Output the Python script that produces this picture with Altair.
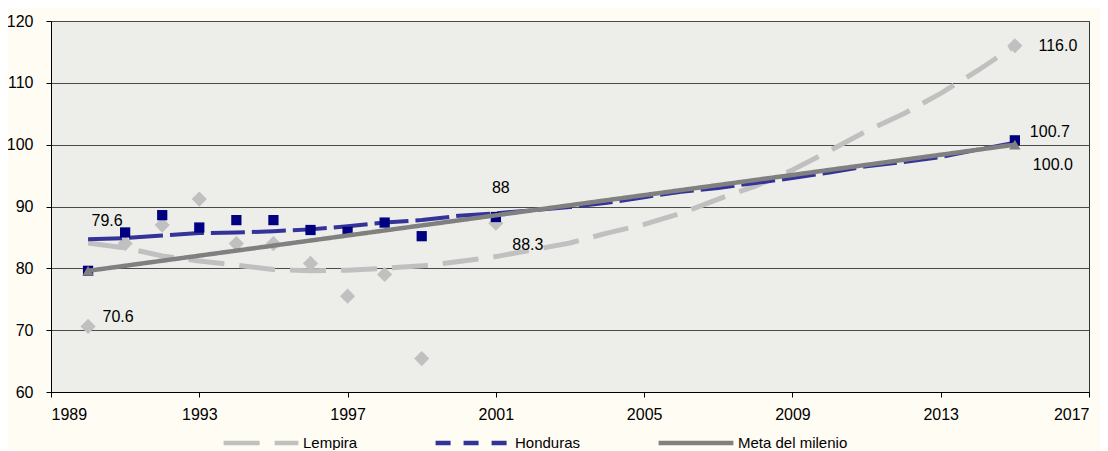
import altair as alt
import pandas as pd

# ---------------- data ----------------
series_names = ["Lempira", "Honduras", "Meta del milenio"]

line_years = list(range(1990, 2016))
lempira_line = [84.1, 83.3, 82.0, 81.2, 80.5, 79.8, 79.6, 79.7, 80.0, 80.4, 81.1, 81.9, 83.0,
                84.1, 85.7, 87.1, 88.9, 91.2, 93.3, 95.9, 99.0, 102.2, 105.0, 108.3, 112.0, 116.0]
honduras_line = [84.7, 84.9, 85.3, 85.7, 85.8, 86.0, 86.3, 86.8, 87.4, 87.8, 88.5, 88.9, 89.4,
                 89.9, 90.6, 91.5, 92.4, 93.0, 93.8, 94.6, 95.5, 96.5, 97.2, 98.0, 99.2, 100.3]
meta_years = [1990, 2015]
meta_values = [79.6, 100.0]

obs_years = [1990, 1991, 1992, 1993, 1994, 1995, 1996, 1997, 1998, 1999, 2001, 2015]
honduras_obs = [79.6, 85.8, 88.6, 86.6, 87.8, 87.8, 86.2, 85.9, 87.4, 85.2, 88.3, 100.7]
lempira_obs = [70.6, 84.0, 87.0, 91.2, 84.0, 84.0, 80.8, 75.5, 79.0, 65.4, 87.3, 116.0]

label_texts = ["79.6", "70.6", "88", "88.3", "116.0", "100.7", "100.0"]
label_series = ["Honduras", "Lempira", "Honduras", "Lempira", "Lempira", "Honduras", "Meta del milenio"]
label_years = [1990, 1990, 2001, 2001, 2015, 2015, 2015]

x_ticks = [1989, 1993, 1997, 2001, 2005, 2009, 2013, 2017]
y_ticks = [60, 70, 80, 90, 100, 110, 120]

title_text = "(por cada 100 niños de cada escolar)"

# ---------------- tables ----------------
lines = pd.concat([
    pd.DataFrame({"year": line_years, "value": lempira_line, "series": "Lempira"}),
    pd.DataFrame({"year": line_years, "value": honduras_line, "series": "Honduras"}),
    pd.DataFrame({"year": meta_years, "value": meta_values, "series": "Meta del milenio"}),
], ignore_index=True)

points = pd.concat([
    pd.DataFrame({"year": obs_years, "value": lempira_obs, "series": "Lempira"}),
    pd.DataFrame({"year": obs_years, "value": honduras_obs, "series": "Honduras"}),
    pd.DataFrame({"year": meta_years, "value": meta_values, "series": "Meta del milenio"}),
], ignore_index=True)

lookup = {(r.series, r.year): r.value for r in points.itertuples()}
labels = pd.DataFrame({
    "year": label_years,
    "value": [lookup[(s, y)] for s, y in zip(label_series, label_years)],
    "text": label_texts,
})

FONT = "Liberation Sans"

x_enc = alt.X("year:Q",
              scale=alt.Scale(domain=[1989, 2017], nice=False, zero=False),
              axis=alt.Axis(values=x_ticks, format="d", title=None, grid=False,
                            tickSize=5, labelPadding=9, labelFontSize=16,
                            domainColor="#000", tickColor="#000", labelColor="#000",
                            labelFont=FONT))
y_enc = alt.Y("value:Q",
              scale=alt.Scale(domain=[60, 120], nice=False, zero=False),
              axis=alt.Axis(values=y_ticks, title=None, grid=True, gridColor="#4a4a4a",
                            gridWidth=1, tickSize=5, labelPadding=13, labelFontSize=16,
                            domainColor="#000", tickColor="#000", labelColor="#000",
                            labelFont=FONT))

color_scale = alt.Scale(domain=series_names, range=["#C0C0C0", "#333399", "#808080"])
dash_scale = alt.Scale(domain=series_names, range=[[36, 15], [15, 13], [1, 0]])
legend = alt.Legend(title=None, orient="none", legendX=170, legendY=382,
                    direction="horizontal", symbolType="stroke", symbolSize=5600,
                    symbolStrokeWidth=4.5, labelFontSize=15, labelFont=FONT,
                    labelColor="#000", columnPadding=68, labelOffset=2, padding=0)

color_enc = alt.Color("series:N", scale=color_scale, legend=legend, sort=series_names)
dash_enc = alt.StrokeDash("series:N", scale=dash_scale, legend=legend, sort=series_names)

base_l = alt.Chart(lines)
base_p = alt.Chart(points)

lemp_line = base_l.transform_filter(alt.datum.series == "Lempira").mark_line(
    strokeWidth=5, strokeCap="butt").encode(x=x_enc, y=y_enc, color=color_enc, strokeDash=dash_enc)
lemp_pts = base_p.transform_filter(alt.datum.series == "Lempira").mark_point(
    shape="diamond", filled=True, size=230, color="#C0C0C0", opacity=1).encode(x="year:Q", y="value:Q")

hond_line = base_l.transform_filter(alt.datum.series == "Honduras").mark_line(
    strokeWidth=4, strokeCap="butt").encode(x="year:Q", y="value:Q", color=color_enc,
                                           strokeDash=alt.value([34, 7]))
hond_pts = base_p.transform_filter(alt.datum.series == "Honduras").mark_point(
    shape="square", filled=True, size=105, color="#000080", opacity=1).encode(x="year:Q", y="value:Q")

meta_line = base_l.transform_filter(alt.datum.series == "Meta del milenio").mark_line(
    strokeWidth=4.5).encode(x="year:Q", y="value:Q", color=color_enc, strokeDash=dash_enc)
meta_pts = base_p.transform_filter(alt.datum.series == "Meta del milenio").mark_point(
    shape="triangle-up", filled=True, size=130, color="#808080", opacity=1).encode(x="year:Q", y="value:Q")

offsets = {
    "79.6": (19, -50), "70.6": (30, -9), "88": (5, -29), "88.3": (32, 22),
    "116.0": (43, 0), "100.7": (35, -8), "100.0": (38, 20),
}
text_layers = []
for t in label_texts:
    dx, dy = offsets[t]
    text_layers.append(
        alt.Chart(labels).transform_filter(alt.datum.text == t).mark_text(
            dx=dx, dy=dy, align="center", baseline="middle", fontSize=16, font=FONT, color="#000"
        ).encode(x="year:Q", y="value:Q", text="text:N")
    )

chart = alt.layer(
    lemp_line, lemp_pts, hond_line, hond_pts, meta_line, meta_pts, *text_layers
).properties(
    width=1038, height=371,
    title=alt.TitleParams(title_text, anchor="start", fontSize=17, font=FONT,
                          fontWeight="normal", color="#000", offset=4, dx=98),
    autosize=alt.AutoSizeParams(type="none"),
    padding={"left": 43, "top": 13, "right": 11, "bottom": 58},
).configure(background="#FFFCF4").configure_view(
    fill="#EDEEEA", stroke="#333", strokeWidth=1
).resolve_scale(color="shared", strokeDash="shared")

chart.save("out.html", embed_options={"renderer": "svg", "actions": False})
